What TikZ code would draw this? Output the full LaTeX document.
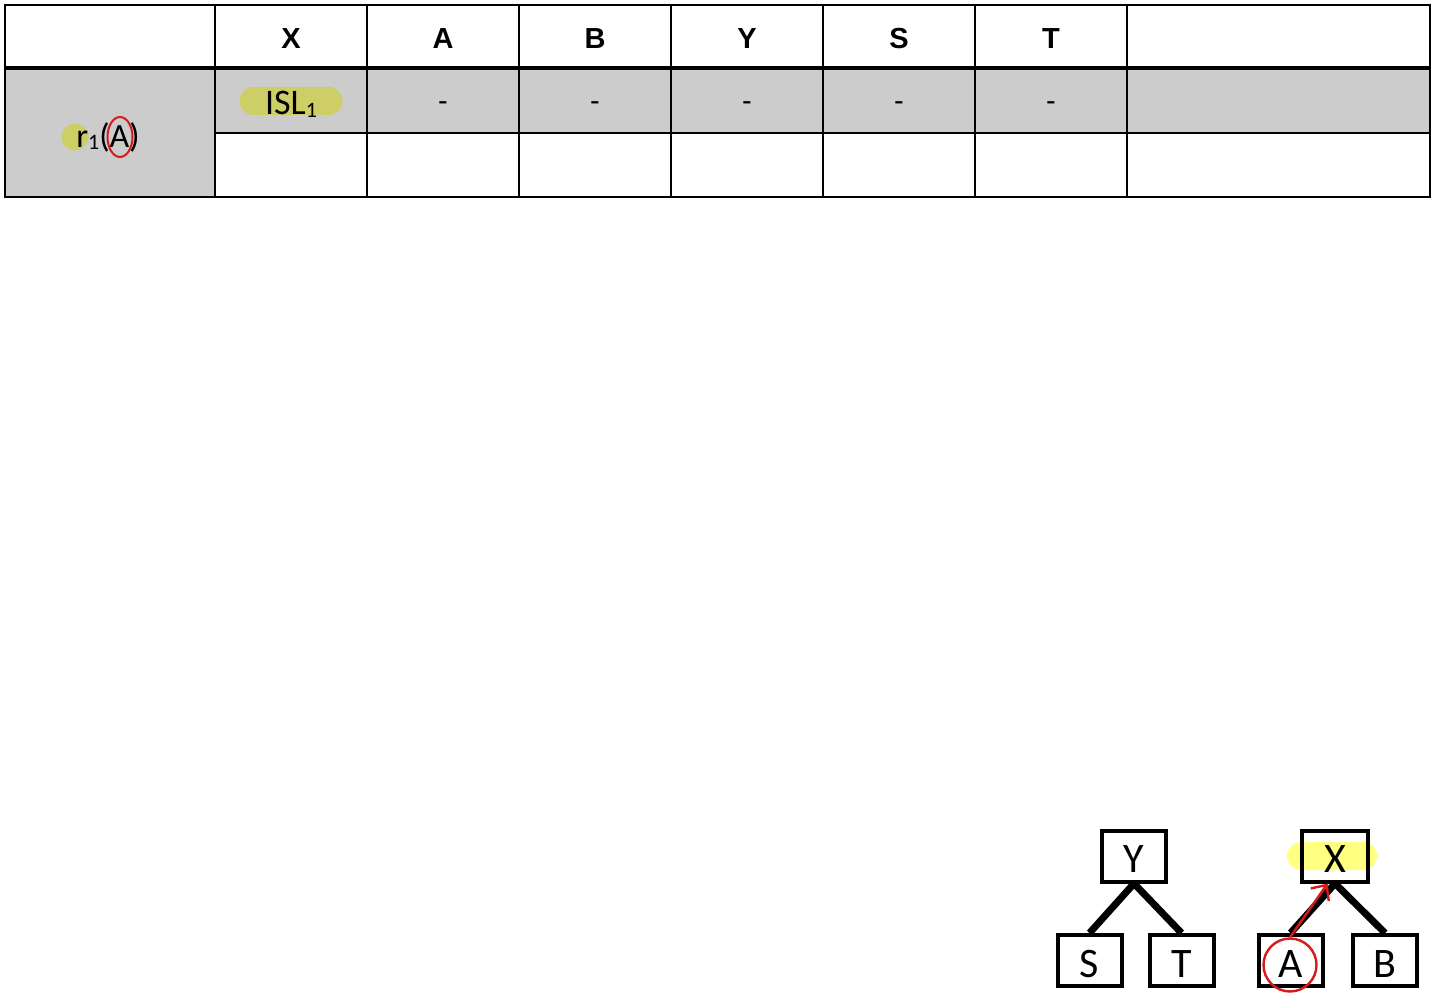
\documentclass[tikz,border=0pt]{standalone}
\usepackage{fontspec}
\setmainfont{Carlito}
\newfontfamily\headfont{Liberation Sans}
\usetikzlibrary{arrows.meta, shapes.geometric}
\definecolor{cellgray}{RGB}{204,204,204}
\definecolor{hlolive}{RGB}{206,206,102}
\definecolor{hlyellow}{RGB}{255,255,128}
\definecolor{markred}{RGB}{215,25,25}
\newcommand{\lowidx}[2]{\raisebox{-#2}{\fontsize{#1}{#1}\selectfont 1}}

\begin{document}
\begin{tikzpicture}[x=0.5pt, y=-0.5pt,
  every node/.style={inner sep=0pt},
  headtxt/.style={font=\headfont\bfseries\fontsize{14.5}{16}\selectfont, anchor=base},
  dashtxt/.style={font=\headfont\fontsize{14.5}{16}\selectfont},
  celltxt/.style={font=\fontsize{18}{20}\selectfont, anchor=base},
  treebox/.style={rectangle, draw, line width=2pt, minimum width=32pt, minimum height=25.5pt,
    font=\fontsize{21}{24}\selectfont, text height=16.5pt, text depth=0pt},
  treeedge/.style={line width=3.5pt},
  redmark/.style={draw=markred, line width=1.2pt}]
  \useasboundingbox (0,0) rectangle (1434,999);
  % table
  \fill[cellgray] (5,68) rectangle (1430,133);
  \fill[cellgray] (5,68) rectangle (215,197);
  \foreach \x in {215,367,519,671,823,975,1127}
    \draw[line width=1pt] (\x,5) -- (\x,197);
  \draw[line width=1pt] (215,133) -- (1430,133);
  \draw[line width=1pt] (5,5) rectangle (1430,197);
  \draw[line width=2pt] (5,68) -- (1430,68);
  \foreach \name/\x in {X/291,A/443,B/595,Y/747,S/899,T/1051}
    \node[headtxt] (h\name) at (\x,49) {\name};
  \foreach \name/\x in {A/443,B/595,Y/747,S/899,T/1051}
    \node[dashtxt] (d\name) at (\x,106) {-};
  \node (islhl) [fill=hlolive, rounded corners=7pt, minimum width=51.5pt, minimum height=14pt] at (291,101) {};
  \node (isl) [celltxt] at (291,115) {ISL\lowidx{11}{1.5pt}};
  \node (rhl) [circle, fill=hlolive, minimum size=13.5pt] at (75,137) {};
  \node (rop) [celltxt, font=\fontsize{17}{19}\selectfont] at (108,148) {r\lowidx{11}{1pt}(A)};
  \node (aring) [ellipse, redmark, line width=1pt, minimum width=12.5pt, minimum height=20pt] at (120,137) {};
  % trees
  \node (xhl) [fill=hlyellow, rounded corners=7pt, minimum width=45pt, minimum height=14pt] at (1332,856) {};
  \node (y) [treebox] at (1134,856) {Y};
  \node (s) [treebox] at (1089.5,960.5) {S};
  \node (t) [treebox] at (1181.5,960.5) {T};
  \node (x) [treebox, minimum width=33pt] at (1335,856) {X};
  \node (a) [treebox] at (1290.5,960.5) {A};
  \node (b) [treebox] at (1385,960.5) {B};
  \draw[treeedge] (y.south) -- (s.north);
  \draw[treeedge] (y.south) -- (t.north);
  \draw[treeedge] (x.south) -- (a.north);
  \draw[treeedge] (x.south) -- (b.north);
  \node (acirc) [circle, redmark, minimum size=26.5pt] at (1290,965) {};
  \draw[redmark, -{Straight Barb[length=6pt, width=11pt]}] (acirc.north) -- (x.-105);
\end{tikzpicture}
\end{document}
